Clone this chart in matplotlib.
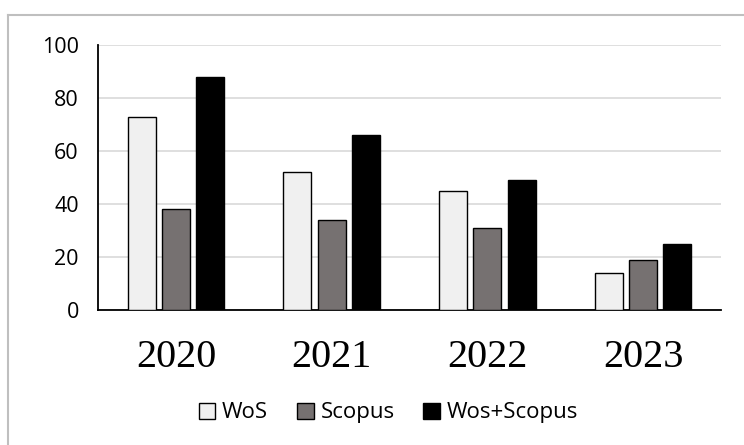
import numpy as np
import matplotlib
matplotlib.use("Agg")
import matplotlib.pyplot as plt
from matplotlib.lines import Line2D

years = ["2020", "2021", "2022", "2023"]
wos = [73, 52, 45, 14]
scopus = [38, 34, 31, 19]
wos_scopus = [88, 66, 49, 25]

series_names = ["WoS", "Scopus", "Wos+Scopus"]
colors = ["#f0f0f0", "#767171", "#000000"]


def main():
    fig = plt.figure(figsize=(7.44, 4.45), dpi=100)
    ax = fig.add_axes([0.132, 0.303, 0.837, 0.596])

    x = np.arange(len(years))
    w = 0.18
    offsets = [-0.22, 0.0, 0.22]
    for vals, off, c, name in zip([wos, scopus, wos_scopus], offsets, colors, series_names):
        ax.bar(x + off, vals, width=w, color=c, edgecolor="black", linewidth=1.0,
               label=name, zorder=3)

    ax.set_xlim(-0.5, 3.5)
    ax.set_ylim(0, 100)
    ax.set_yticks([0, 20, 40, 60, 80, 100])
    ax.yaxis.grid(True, color="#d9d9d9", linewidth=1.2, zorder=0)
    ax.set_axisbelow(True)

    ax.set_xticks(x)
    ax.set_xticklabels(years, fontfamily="Liberation Serif", fontsize=29)
    ax.tick_params(axis="x", length=0, pad=21)
    ax.tick_params(axis="y", length=0, pad=14, labelsize=15.5)
    for lbl in ax.get_yticklabels():
        lbl.set_fontfamily("Open Sans")

    for s in ["top", "right"]:
        ax.spines[s].set_visible(False)
    ax.spines["left"].set_color("black")
    ax.spines["left"].set_linewidth(1.3)
    ax.spines["bottom"].set_color("black")
    ax.spines["bottom"].set_linewidth(1.3)

    # outer grey frame (cut off on the right and bottom)
    fig.add_artist(Line2D([8 / 744, 8 / 744], [0, 1 - 15 / 445],
                          transform=fig.transFigure, color="#bfbfbf", linewidth=1.5))
    fig.add_artist(Line2D([8 / 744, 1], [1 - 15 / 445, 1 - 15 / 445],
                          transform=fig.transFigure, color="#bfbfbf", linewidth=1.5))

    fig.legend(loc="center", bbox_to_anchor=(0.522, 0.072), ncol=3, frameon=False,
               handlelength=0.75, handleheight=0.75, handletextpad=0.3,
               columnspacing=1.3, prop={"family": "Open Sans", "size": 16})

    fig.savefig("out.png", dpi=100)


if __name__ == "__main__":
    main()
